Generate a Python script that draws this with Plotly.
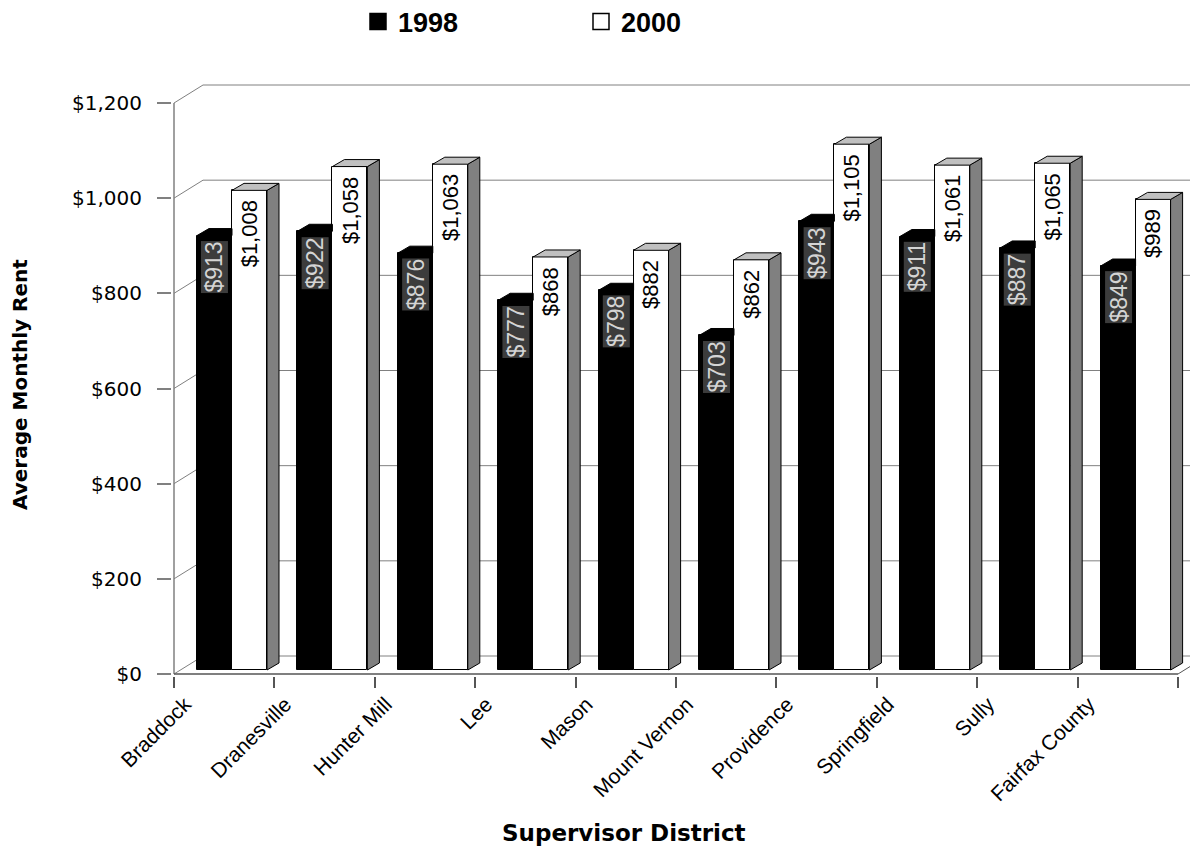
import plotly.graph_objects as go

# ---------------- data ----------------
districts = ["Braddock", "Dranesville", "Hunter Mill", "Lee", "Mason",
             "Mount Vernon", "Providence", "Springfield", "Sully", "Fairfax County"]
rent_1998 = [913, 922, 876, 777, 798, 703, 943, 911, 887, 849]
rent_2000 = [1008, 1058, 1063, 868, 882, 862, 1105, 1061, 1065, 989]
series_names = ["1998", "2000"]
y_ticks = [0, 200, 400, 600, 800, 1000, 1200]
y_tick_text = [f"${v:,}" for v in y_ticks]

# ---------------- geometry (pixels -> axis units) ----------------
OFF = 8                      # page body margin
W, H = 1198 - OFF, 863 - OFF
X0, Y0 = 174 - OFF, 674 - OFF  # front axis corner in figure pixels
cat_px = 100.4               # pixels per category
val_px = 571 / 1200          # pixels per dollar
pad = 2
ml, mr, mt = X0 - pad, 0, 80 - OFF
mb = H - Y0 - pad
x_range = [-pad / cat_px, (W - X0) / cat_px]
y_range = [-pad / val_px, (Y0 - mt) / val_px]

wall_dx, wall_dy = 29 / cat_px, 18 / val_px
bar_dx, bar_dy = 12 / cat_px, 7 / val_px
bar_base = 4 / val_px
bar_w = 35 / cat_px
off_b = 23 / cat_px
off_w = off_b + bar_w
label_off = 0.11
n = len(districts)
idx = list(range(n))

GRID = "#808080"
AX = "#555555"
FONT = "Liberation Sans, Arial, sans-serif"
WIDE = "DejaVu Sans, sans-serif"

fig = go.Figure()

fig.add_trace(go.Bar(
    x=idx, y=rent_1998, base=bar_base, width=bar_w, offset=off_b,
    name=series_names[0], marker=dict(color="black", line=dict(color="black", width=1)),
    showlegend=False, hoverinfo="skip"))
fig.add_trace(go.Bar(
    x=idx, y=rent_2000, base=bar_base, width=bar_w, offset=off_w,
    name=series_names[1], marker=dict(color="white", line=dict(color="black", width=1)),
    showlegend=False, hoverinfo="skip"))

# legend entries (larger square keys)
for name, col in zip(series_names, ["black", "white"]):
    fig.add_trace(go.Scatter(x=[None], y=[None], mode="markers", name=name,
                             marker=dict(symbol="square", size=16, color=col,
                                         line=dict(color="black", width=1.5))))

# 3-D faces built from the same values
top_b_x, top_b_y = [], []
top_w_x, top_w_y = [], []
side_w_x, side_w_y = [], []
for i, (vb, vw) in enumerate(zip(rent_1998, rent_2000)):
    tb = vb + bar_base
    xl, xm = i + off_b, i + off_w
    top_b_x += [xl, xm, xm, xl + bar_dx, xl, None]
    top_b_y += [tb, tb, tb + bar_dy, tb + bar_dy, tb, None]
    tw = vw + bar_base
    xr = xm + bar_w
    top_w_x += [xm, xr, xr + bar_dx, xm + bar_dx, xm, None]
    top_w_y += [tw, tw, tw + bar_dy, tw + bar_dy, tw, None]
    side_w_x += [xr, xr, xr + bar_dx, xr + bar_dx, xr, None]
    side_w_y += [bar_base, tw, tw + bar_dy, bar_base + bar_dy, bar_base, None]

for fx, fy, col in [(top_b_x, top_b_y, "black"), (side_w_x, side_w_y, "#808080"),
                    (top_w_x, top_w_y, "#c0c0c0")]:
    fig.add_trace(go.Scatter(x=fx, y=fy, mode="lines", fill="toself", fillcolor=col,
                             line=dict(color="black", width=1), xaxis="x2",
                             showlegend=False, hoverinfo="skip"))

# walls, gridlines and floor
shapes = []
for v in y_ticks:
    shapes.append(dict(type="line", xref="x", yref="y", x0=0, y0=v, x1=wall_dx, y1=v + wall_dy,
                       line=dict(color=GRID, width=1), layer="below"))
    shapes.append(dict(type="line", xref="x", yref="y", x0=wall_dx, y0=v + wall_dy,
                       x1=x_range[1] + 1, y1=v + wall_dy, line=dict(color=GRID, width=1), layer="below"))
shapes.append(dict(type="line", xref="x", yref="y", x0=0, y0=0, x1=0, y1=y_ticks[-1],
                   line=dict(color=GRID, width=1.5), layer="below"))
shapes.append(dict(type="line", xref="x", yref="y", x0=0, y0=0, x1=n, y1=0,
                   line=dict(color=AX, width=1.5), layer="below"))
shapes.append(dict(type="line", xref="x", yref="y", x0=n, y0=0, x1=n + wall_dx, y1=wall_dy,
                   line=dict(color=AX, width=1), layer="below"))

# data labels
annotations = []
for i, (vb, vw) in enumerate(zip(rent_1998, rent_2000)):
    annotations.append(dict(x=i + off_b + bar_w / 2, y=vb + bar_base, xref="x", yref="y",
                            text=f"${vb:,}", textangle=-90, showarrow=False,
                            yanchor="top", xanchor="center", yshift=-5,
                            font=dict(family=FONT, size=23, color="#d4d4d4"),
                            bgcolor="#3c3c3c", borderpad=0))
    annotations.append(dict(x=i + off_w + bar_w / 2, y=vw + bar_base, xref="x", yref="y",
                            text=f"${vw:,}", textangle=-90, showarrow=False,
                            yanchor="top", xanchor="center", yshift=-8,
                            font=dict(family=FONT, size=22, color="black")))

def px_to_paper(px, py):
    # px, py are page pixels of the reference
    fx, fy = px - OFF, py - OFF
    return (fx - ml) / (W - ml - mr), (H - mb - fy) / (H - mt - mb)

tx, ty = px_to_paper(624, 833)
annotations.append(dict(x=tx, y=ty, xref="paper", yref="paper", text="<b>Supervisor District</b>",
                        xanchor="center", yanchor="middle",
                        showarrow=False, font=dict(family=WIDE, size=23, color="black")))
yx, yy = px_to_paper(20, 385)
annotations.append(dict(x=yx, y=yy, xref="paper", yref="paper", text="<b>Average Monthly Rent</b>",
                        xanchor="center", yanchor="middle",
                        textangle=-90, showarrow=False, font=dict(family=WIDE, size=20, color="black")))

fig.update_layout(
    width=W, height=H, margin=dict(l=ml, r=mr, t=mt, b=mb, autoexpand=False),
    plot_bgcolor="white", paper_bgcolor="white",
    barmode="overlay", bargap=0,
    showlegend=True,
    legend=dict(orientation="h", xref="container", yref="container",
                x=(350) / W, xanchor="left", y=1 - (22 - OFF) / H, yanchor="middle",
                font=dict(family=FONT, size=27, color="black", weight="bold"),
                entrywidth=178, entrywidthmode="pixels", bgcolor="rgba(0,0,0,0)"),
    xaxis=dict(range=x_range, tickvals=list(range(n + 1)), showticklabels=False,
               ticks="outside", ticklen=11, tickcolor=AX, tickwidth=1.5,
               showgrid=False, zeroline=False, showline=False, fixedrange=True),
    xaxis2=dict(range=x_range, overlaying="x", anchor="y", side="bottom",
                tickvals=[i + label_off for i in idx], ticktext=districts,
                tickangle=-45, ticks="", ticklabelstandoff=11,
                tickfont=dict(family=FONT, size=21, color="black"),
                showgrid=False, zeroline=False, showline=False, fixedrange=True),
    yaxis=dict(range=y_range, tickvals=y_ticks, ticktext=y_tick_text,
               ticks="outside", ticklen=14, tickcolor=GRID, tickwidth=1.5,
               ticklabelstandoff=11, tickfont=dict(family=WIDE, size=20, color="black"),
               showgrid=False, zeroline=False, showline=False, fixedrange=True),
    shapes=shapes, annotations=annotations,
)

fig.write_html("out.html")
